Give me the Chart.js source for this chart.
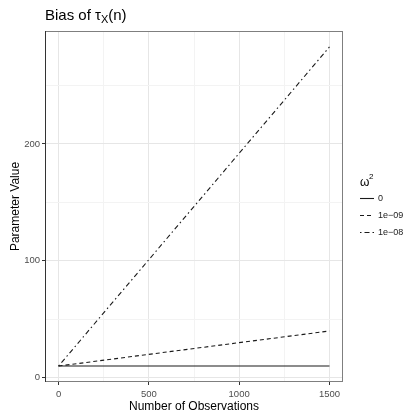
<html>
    <head>
        <script src="https://cdn.jsdelivr.net/npm/chart.js@4.4.0/dist/chart.umd.min.js"></script>
        <style>
            body { margin: 0; background: #fff; }
        </style>
    </head>
    <body>
        <div style="width:407px;height:412px">
            <canvas id="bias" width="407" height="412"></canvas>
        </div>
        <script>
            // values
            const N_OBS = [0, 500, 1000, 1500];
            const OMEGA_LABELS = ["0", "1e\u221209", "1e\u221208"];
            const BIAS_0 = [10, 10, 10, 10];
            const BIAS_1E09 = [10, 20, 30, 40];
            const BIAS_1E08 = [10, 101, 192, 283];

            const X_TICKS = [0, 250, 500, 750, 1000, 1250, 1500];
            const X_MAJOR = [0, 500, 1000, 1500];
            const Y_TICKS = [0, 50, 100, 150, 200, 250];
            const Y_MAJOR = [0, 100, 200];

            const DASHES = [[], [4, 3], [1.5, 3, 5, 3]];
            const FONT = "'Liberation Sans', Arial, sans-serif";

            function toPoints(ys) {
                return N_OBS.map((n, i) => ({x: n, y: ys[i]}));
            }

            const series = [BIAS_0, BIAS_1E09, BIAS_1E08];
            const datasets = series.map((ys, i) => ({
                label: OMEGA_LABELS[i],
                data: toPoints(ys),
                borderColor: "#1a1a1a",
                borderWidth: 1.1,
                borderDash: DASHES[i],
                pointRadius: 0,
                fill: false,
                tension: 0
            }));

            function setTicks(list) {
                return scale => { scale.ticks = list.map(v => ({value: v})); };
            }

            // title with subscript, panel border and legend
            const extras = {
                id: "extras",
                afterDraw(chart) {
                    const ctx = chart.ctx;
                    const a = chart.chartArea;
                    ctx.save();
                    ctx.strokeStyle = "#7f7f7f";
                    ctx.lineWidth = 1;
                    ctx.strokeRect(a.left + 0.5, a.top + 0.5, a.right - a.left - 1, a.bottom - a.top - 1);
                    ctx.strokeStyle = "#333";
                    ctx.beginPath();
                    ctx.moveTo(a.left + 0.5, a.top);
                    ctx.lineTo(a.left + 0.5, a.bottom);
                    ctx.stroke();

                    // title
                    ctx.fillStyle = "#000";
                    ctx.textBaseline = "alphabetic";
                    ctx.textAlign = "left";
                    let x = 45;
                    ctx.font = "15px " + FONT;
                    ctx.fillText("Bias of \u03c4", x, 20);
                    x += ctx.measureText("Bias of \u03c4").width;
                    ctx.font = "11px " + FONT;
                    ctx.fillText("X", x, 23);
                    x += ctx.measureText("X").width;
                    ctx.font = "15px " + FONT;
                    ctx.fillText("(n)", x, 20);

                    // legend
                    ctx.font = "12px " + FONT;
                    ctx.fillText("\u03c9", 360, 186);
                    ctx.font = "8px " + FONT;
                    ctx.fillText("2", 369, 179);
                    ctx.font = "9px " + FONT;
                    ctx.fillStyle = "#1a1a1a";
                    ctx.textBaseline = "middle";
                    for (let i = 0; i < OMEGA_LABELS.length; i++) {
                        const y = 198.5 + i * 17;
                        ctx.setLineDash(DASHES[i]);
                        ctx.lineWidth = 1.1;
                        ctx.strokeStyle = "#1a1a1a";
                        ctx.beginPath();
                        ctx.moveTo(360, y);
                        ctx.lineTo(374, y);
                        ctx.stroke();
                        ctx.setLineDash([]);
                        ctx.fillText(OMEGA_LABELS[i], 378, y);
                    }
                    ctx.restore();
                }
            };

            new Chart(document.getElementById("bias"), {
                type: "line",
                data: {datasets},
                plugins: [extras],
                options: {
                    responsive: false,
                    animation: false,
                    layout: {padding: {top: 31, right: 64, left: 0, bottom: 0}},
                    plugins: {
                        legend: {display: false},
                        tooltip: {enabled: false}
                    },
                    scales: {
                        x: {
                            type: "linear",
                            min: -75,
                            max: 1575,
                            afterBuildTicks: setTicks(X_TICKS),
                            afterFit: scale => { scale.height = 30; },
                            grid: {
                                color: c => X_MAJOR.includes(c.tick.value) ? "#e6e6e6" : "#f3f3f3",
                                tickColor: c => X_MAJOR.includes(c.tick.value) ? "#333" : "rgba(0,0,0,0)",
                                tickLength: 3,
                                drawTicks: true
                            },
                            border: {display: false},
                            ticks: {
                                autoSkip: false,
                                maxRotation: 0,
                                padding: 4,
                                color: "#4d4d4d",
                                font: {family: FONT, size: 9.5},
                                callback: v => X_MAJOR.includes(v) ? String(v) : ""
                            },
                            title: {
                                display: true,
                                text: "Number of Observations",
                                color: "#000",
                                font: {family: FONT, size: 12},
                                padding: {top: 3, bottom: -2}
                            }
                        },
                        y: {
                            type: "linear",
                            min: -3.65,
                            max: 296.65,
                            afterBuildTicks: setTicks(Y_TICKS),
                            afterFit: scale => { scale.width = 45; },
                            grid: {
                                color: c => Y_MAJOR.includes(c.tick.value) ? "#e6e6e6" : "#f3f3f3",
                                tickColor: c => Y_MAJOR.includes(c.tick.value) ? "#333" : "rgba(0,0,0,0)",
                                tickLength: 3
                            },
                            border: {display: false},
                            ticks: {
                                autoSkip: false,
                                padding: 2,
                                color: "#4d4d4d",
                                font: {family: FONT, size: 9.5},
                                callback: v => Y_MAJOR.includes(v) ? String(v) : ""
                            },
                            title: {
                                display: true,
                                text: "Parameter Value",
                                color: "#000",
                                font: {family: FONT, size: 12},
                                padding: {top: 8, bottom: 0}
                            }
                        }
                    }
                }
            });
        </script>
    </body>
</html>
